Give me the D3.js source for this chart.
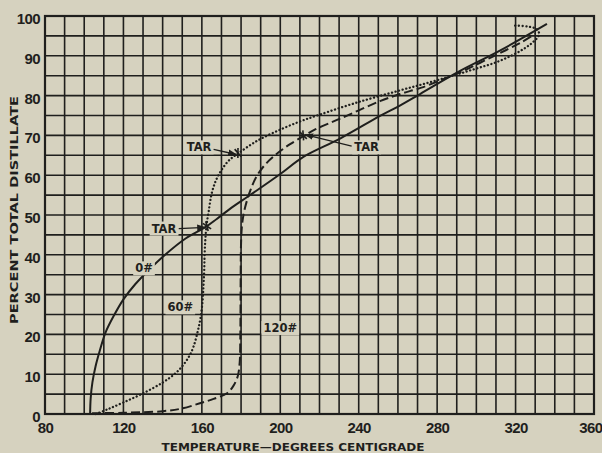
<!DOCTYPE html>
<html>
<head>
<meta charset="utf-8">
<script src="https://cdn.jsdelivr.net/npm/d3@7"></script>
<style>
  html, body { margin: 0; padding: 0; background: #d6d2bf; }
  svg { display: block; }
</style>
</head>
<body>
<svg id="chart" width="602" height="453"></svg>
<script>
// ---------- data (temperature °C, percent total distillate) ----------
const xTicks = [80, 120, 160, 200, 240, 280, 320, 360];
const yTicks = [0, 10, 20, 30, 40, 50, 60, 70, 80, 90, 100];

const series0 = [ // 0 # (solid)
  [103,0],[103.3,4],[104.2,8],[105.8,12],[108,16],[110.8,20.4],[115,24.6],[120,28.8],
  [126,32.6],[133,36.2],[141.7,40.2],[151.7,44.1],[162,47],[167.6,49],[175,51.8],
  [183.7,54.7],[200,60.3],[211.8,64.6],[230.5,69.2],[250.9,74.9],[261,77.5],
  [271.3,80.4],[291.7,86.2],[312,91.3],[336,98]
];
const series60 = [ // 60 # (dotted)
  [106,0],[112,1.2],[120,2.9],[130,5.2],[140,7.9],[146,10],[150,12],[153.5,14.5],
  [155.8,17],[158,21],[159.2,23.8],[160.3,28],[160.8,32],[161.2,36],[161.4,40],
  [161.8,44],[162.4,47.5],[163.5,51],[165,55.4],[167.2,58.7],[170,61.3],[174,63.8],
  [178.6,65.5],[187,68.3],[197,70.8],[209,73.3],[220,75.2],[240.7,78.5],[261,81.3],
  [276,83.3],[290,85.3],[300,86.8],[308,88],[316,89.6],[324,91.7],[329,93.5],
  [332,95.3],[331,96.6],[327,97.3],[319,97.6]
];
const series120 = [ // 120 # (dashed)
  [104,0.2],[120,0.3],[140,0.7],[150,1.4],[159,2.7],[166,3.8],[172.8,5.2],[176,7],
  [178.3,9.5],[179.3,13],[179.6,18.8],[179.7,25],[179.8,35],[180,43],[180.6,48],
  [182,51.8],[184.6,56],[188,59.8],[193.1,63.1],[199,65.7],[205,67.8],[211.8,69.8],
  [217.8,71.5],[230.5,74.2],[250.8,78.6],[261,80.4],[272,82],[284,84.3],[295,86.6],
  [305,89],[315,91.4],[323,93.4],[330,95.5]
];

const curveLabelText = ["0#", "60#", "120#"];
const curveLabelPos = [[130.5,36.6],[149,26.8],[200,21.6]];

const tarText = ["TAR", "TAR", "TAR"];
const tarTextPos = [[158.6,67],[244,67],[140.7,46.6]];
const tarArrowFrom = [[166,66.5],[236.4,67.3],[148.2,46.6]];
const tarArrowTo = [[177.6,65.2],[212.6,70.2],[161.8,46.9]];
const tarMark = [[178.4,65.6],[211.7,70.0],[162.6,47.2]];
const tarMarkAngle = [20, 25, 35]; // curve slope for cross tick orientation

const xTitle = "TEMPERATURE\u2014DEGREES CENTIGRADE";
const yTitle = "PERCENT TOTAL DISTILLATE";

// ---------- layout ----------
const ink = "#1f1f1d";
const paper = "#d6d2bf";
const svg = d3.select("#chart");
const x = d3.scaleLinear().domain([80, 360]).range([45, 594]);
const y = d3.scaleLinear().domain([0, 100]).range([414, 16]);

svg.append("rect").attr("width", 602).attr("height", 453).attr("fill", paper);

// grid
const g = svg.append("g");
g.selectAll("line.v").data(d3.range(80, 361, 10)).join("line")
  .attr("x1", d => x(d)).attr("x2", d => x(d))
  .attr("y1", y(0)).attr("y2", y(100))
  .attr("stroke", ink).attr("stroke-width", 1.6);
g.selectAll("line.h").data(d3.range(0, 101, 5)).join("line")
  .attr("y1", d => y(d)).attr("y2", d => y(d))
  .attr("x1", x(80)).attr("x2", x(360))
  .attr("stroke", ink).attr("stroke-width", 1.6);
g.append("rect").attr("x", x(80)).attr("y", y(100))
  .attr("width", x(360) - x(80)).attr("height", y(0) - y(100))
  .attr("fill", "none").attr("stroke", ink).attr("stroke-width", 2.2);

// axes (tick labels only, via d3 axes)
const font = "'Liberation Sans', Arial, sans-serif";
const xAxis = svg.append("g").attr("transform", `translate(0,${y(0)})`)
  .call(d3.axisBottom(x).tickValues(xTicks).tickSize(0).tickPadding(8).tickFormat(d3.format("d")));
const yAxis = svg.append("g").attr("transform", `translate(${x(80)},0)`)
  .call(d3.axisLeft(y).tickValues(yTicks).tickSize(0).tickPadding(5).tickFormat(d3.format("d")));
[xAxis, yAxis].forEach(a => {
  a.select(".domain").remove();
  a.selectAll("text").attr("fill", ink).attr("font-family", font)
    .attr("font-weight", "bold").attr("font-size", 15).attr("letter-spacing", "-0.6px");
});
yAxis.selectAll("text").attr("dy", "0.5em");
xAxis.selectAll("text").attr("dy", "0.75em");
xAxis.selectAll("text").filter(d => d === 360).attr("text-anchor", "end").attr("dx", 8);

// axis titles
svg.append("text").text(xTitle)
  .attr("x", 293).attr("y", 451).attr("text-anchor", "middle")
  .attr("font-family", "'DejaVu Sans', sans-serif").attr("font-weight", "bold")
  .attr("font-size", 10).attr("fill", ink)
  .attr("textLength", 263).attr("lengthAdjust", "spacingAndGlyphs");
svg.append("text").text(yTitle)
  .attr("transform", `translate(18,210) rotate(-90)`).attr("text-anchor", "middle")
  .attr("font-family", "'DejaVu Sans', sans-serif").attr("font-weight", "bold")
  .attr("font-size", 10).attr("fill", ink)
  .attr("textLength", 228).attr("lengthAdjust", "spacingAndGlyphs");

// curves
const line = d3.line().x(d => x(d[0])).y(d => y(d[1])).curve(d3.curveCatmullRom.alpha(0.5));
svg.append("path").datum(series0).attr("d", line)
  .attr("fill", "none").attr("stroke", ink).attr("stroke-width", 2);
svg.append("path").datum(series60).attr("d", line)
  .attr("fill", "none").attr("stroke", ink).attr("stroke-width", 2.3)
  .attr("stroke-linecap", "round").attr("stroke-dasharray", "0.1,3.6");
svg.append("path").datum(series120).attr("d", line)
  .attr("fill", "none").attr("stroke", ink).attr("stroke-width", 2)
  .attr("stroke-dasharray", "9,4");

// curve labels with paper background
const lblFont = "'DejaVu Sans', sans-serif";
curveLabelText.forEach((t, i) => {
  const gx = svg.append("g");
  const txt = gx.append("text").text(t)
    .attr("x", x(curveLabelPos[i][0])).attr("y", y(curveLabelPos[i][1]))
    .attr("text-anchor", "middle").attr("dy", "0.35em")
    .attr("font-family", lblFont).attr("font-weight", "bold").attr("font-size", 11.5)
    .attr("fill", ink);
  const bb = txt.node().getBBox();
  gx.insert("rect", "text").attr("x", bb.x - 2).attr("y", bb.y)
    .attr("width", bb.width + 4).attr("height", bb.height).attr("fill", paper);
});

// TAR annotations
svg.append("defs").append("marker").attr("id", "ah")
  .attr("viewBox", "0 0 10 10").attr("refX", 9).attr("refY", 5)
  .attr("markerWidth", 7).attr("markerHeight", 7).attr("orient", "auto")
  .append("path").attr("d", "M0,1.5 L10,5 L0,8.5 Z").attr("fill", ink);

tarText.forEach((t, i) => {
  const gx = svg.append("g");
  const txt = gx.append("text").text(t)
    .attr("x", x(tarTextPos[i][0])).attr("y", y(tarTextPos[i][1]))
    .attr("text-anchor", "middle").attr("dy", "0.35em")
    .attr("font-family", lblFont).attr("font-weight", "bold").attr("font-size", 11.5)
    .attr("fill", ink);
  const bb = txt.node().getBBox();
  gx.insert("rect", "text").attr("x", bb.x - 2).attr("y", bb.y)
    .attr("width", bb.width + 4).attr("height", bb.height).attr("fill", paper);
  svg.append("line")
    .attr("x1", x(tarArrowFrom[i][0])).attr("y1", y(tarArrowFrom[i][1]))
    .attr("x2", x(tarArrowTo[i][0])).attr("y2", y(tarArrowTo[i][1]))
    .attr("stroke", ink).attr("stroke-width", 1.3).attr("marker-end", "url(#ah)");
  const mx = x(tarMark[i][0]), my = y(tarMark[i][1]);
  const a = -tarMarkAngle[i] * Math.PI / 180;
  // small cross mark on the curve
  [a + Math.PI / 2.6, a - Math.PI / 2.6].forEach(ang => {
    svg.append("line")
      .attr("x1", mx - 5 * Math.cos(ang)).attr("y1", my - 5 * Math.sin(ang))
      .attr("x2", mx + 5 * Math.cos(ang)).attr("y2", my + 5 * Math.sin(ang))
      .attr("stroke", ink).attr("stroke-width", 1.6);
  });
});
</script>
</body>
</html>
